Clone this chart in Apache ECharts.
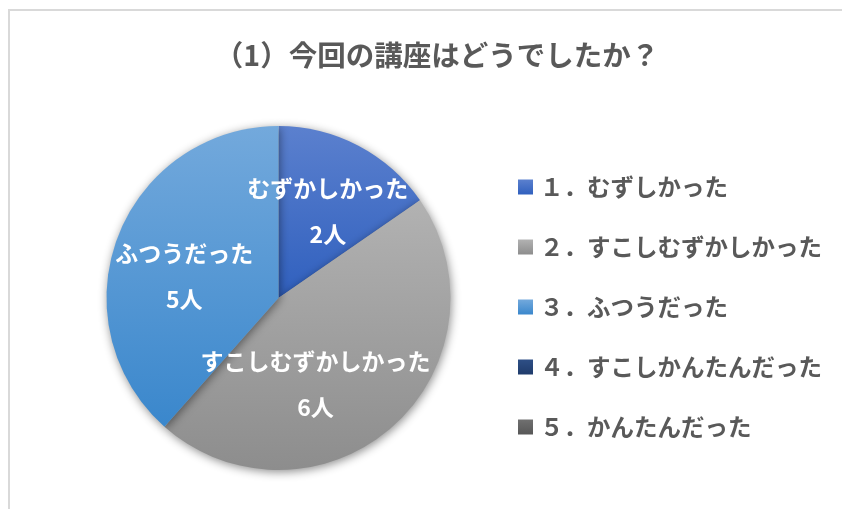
<!DOCTYPE html>
<html>
<head>
<meta charset="utf-8">
<script src="https://cdn.jsdelivr.net/npm/echarts@6/dist/echarts.min.js"></script>
<style>
html,body{margin:0;padding:0;background:#fff;}
#chart{width:842px;height:509px;}
</style>
</head>
<body>
<div id="chart"></div>
<script>
// ---- data ----
var titleText = '（1）今回の講座はどうでしたか？';
var legendNames = ['１．むずしかった', '２．すこしむずかしかった', '３．ふつうだった', '４．すこしかんたんだった', '５．かんたんだった'];
var labelNames = ['むずかしかった', 'すこしむずかしかった', 'ふつうだった', 'すこしかんたんだった', 'かんたんだった'];
var counts = [2, 6, 5, 0, 0];
var unit = '人';

// ---- styles ----
var colorStops = [
  ['#5b80ce', '#3060be'],
  ['#b2b2b2', '#8d8d8d'],
  ['#73a9dc', '#3a87cc'],
  ['#2e4f86', '#1f3b6b'],
  ['#707070', '#575757']
];
var labelOffsets = [[8, -8], [-22, 20], [-11, 10], [0, 0], [0, 0]];
var FONT = '"Noto Sans CJK JP", "Noto Sans", sans-serif';

var chart = echarts.init(document.getElementById('chart'));

var seriesData = counts.map(function (v, i) {
  return {
    name: legendNames[i],
    value: v,
    labelName: labelNames[i],
    itemStyle: {
      color: new echarts.graphic.LinearGradient(0, 0, 0, 1, [
        { offset: 0, color: colorStops[i][0] },
        { offset: 1, color: colorStops[i][1] }
      ])
    },
    label: { show: v > 0, offset: labelOffsets[i] }
  };
});

chart.setOption({
  animation: false,
  backgroundColor: '#ffffff',
  graphic: [{
    type: 'rect',
    silent: true,
    z: -10,
    shape: { x: 9, y: 10, width: 1000, height: 700 },
    style: { fill: 'none', stroke: '#d9d9d9', lineWidth: 2 }
  }],
  title: {
    text: titleText,
    left: 432,
    textAlign: 'center',
    top: 33,
    textStyle: {
      fontFamily: FONT,
      fontSize: 28.5,
      fontWeight: 'bold',
      color: '#595959',
      lineHeight: 34
    }
  },
  legend: {
    orient: 'vertical',
    left: 513,
    top: 170,
    icon: 'rect',
    itemWidth: 15,
    itemHeight: 15,
    itemGap: 36,
    selectedMode: false,
    data: legendNames,
    textStyle: {
      fontFamily: FONT,
      fontSize: 23.5,
      lineHeight: 24,
      fontWeight: 'bold',
      color: '#595959',
      padding: [0, 0, 0, 2]
    }
  },
  series: [{
    type: 'pie',
    center: [278.5, 298],
    radius: [0, 172],
    startAngle: 90,
    clockwise: true,
    avoidLabelOverlap: false,
    itemStyle: {
      borderWidth: 0,
      shadowBlur: 10,
      shadowColor: 'rgba(0,0,0,0.45)',
      shadowOffsetX: 1,
      shadowOffsetY: 2
    },
    label: {
      show: true,
      position: 'inside',
      fontFamily: FONT,
      fontSize: 23,
      fontWeight: 'bold',
      color: '#ffffff',
      lineHeight: 46,
      align: 'center',
      formatter: function (p) {
        return p.data.labelName + '\n' + p.value + unit;
      }
    },
    labelLayout: { hideOverlap: false },
    labelLine: { show: false },
    emphasis: { disabled: true },
    data: seriesData
  }]
});
</script>
</body>
</html>
